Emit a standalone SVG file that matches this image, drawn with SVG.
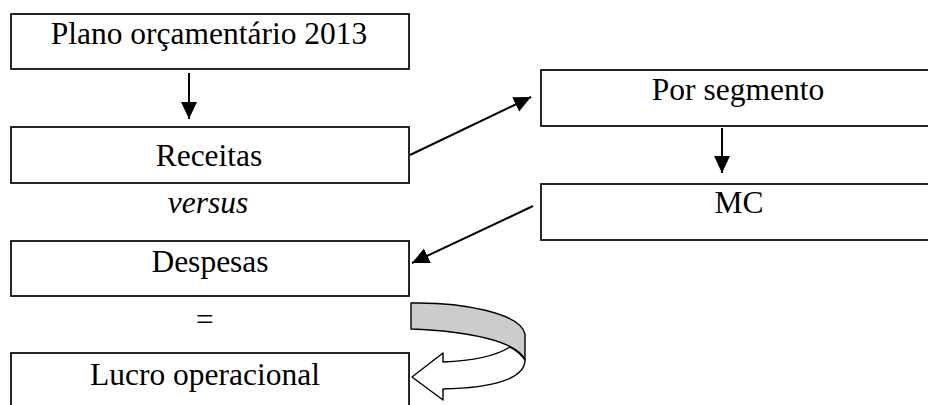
<svg xmlns="http://www.w3.org/2000/svg" width="928" height="405" viewBox="0 0 928 405">
<style>
.box{fill:#fff;stroke:#000;stroke-width:1.7}
.t{font-family:"Liberation Serif","Times New Roman",serif;font-size:31.5px;fill:#000;text-anchor:middle}
.c{stroke:#000;stroke-width:2;fill:none}
</style>
<defs>
<marker id="ah" markerUnits="userSpaceOnUse" markerWidth="18" markerHeight="17" refX="17" refY="8" orient="auto" viewBox="0 0 18 17">
<path d="M0,0 L17,8 L0,16 Z" fill="#000"/>
</marker>
</defs>
<g id="node-plano"><rect class="box" x="11" y="14" width="398" height="55"/><text class="t" x="209" y="44">Plano orçamentário 2013</text></g>
<g id="node-receitas"><rect class="box" x="11" y="127" width="398" height="56"/><text class="t" x="209" y="166">Receitas</text></g>
<g id="label-versus"><text class="t" x="208" y="213" font-style="italic">versus</text></g>
<g id="node-despesas"><rect class="box" x="11" y="241" width="398" height="55"/><text class="t" x="210" y="272">Despesas</text></g>
<g id="label-igual"><text class="t" x="205" y="330">=</text></g>
<g id="node-lucro"><rect class="box" x="11" y="353" width="398" height="70"/><text class="t" x="205" y="385">Lucro operacional</text></g>
<g id="node-segmento"><rect class="box" x="541" y="70" width="400" height="56"/><text class="t" x="738" y="100">Por segmento</text></g>
<g id="node-mc"><rect class="box" x="541" y="184" width="400" height="56"/><text class="t" x="739" y="213">MC</text></g>
<g id="connectors">
<line class="c" x1="189" y1="73" x2="189" y2="119" marker-end="url(#ah)"/>
<line class="c" x1="722" y1="128" x2="722" y2="173" marker-end="url(#ah)"/>
<line class="c" x1="410" y1="155" x2="531" y2="97" marker-end="url(#ah)"/>
<line class="c" x1="533" y1="206" x2="412" y2="263" marker-end="url(#ah)"/>
<g id="curved-arrow" stroke="#000" stroke-width="1.4" stroke-linejoin="round">
<path d="M411,303 C462,302 520,313 525,334 L525,360 C518,342 470,331 411,329 Z" fill="#cccccc"/>
<path d="M510,347 C494,357 470,361 443,362 L443,353 L412,377 L443,400 L443,389 C495,388 525,378 525,360 C521,354 516,350 510,347 Z" fill="#fff"/>
</g>
</g>
</svg>
